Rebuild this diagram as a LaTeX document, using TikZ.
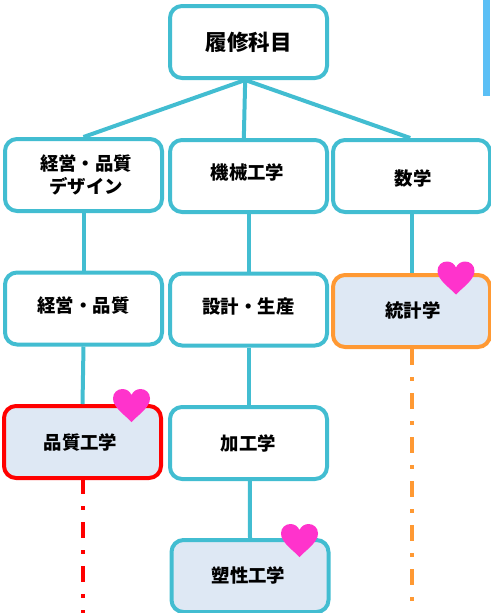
\documentclass[tikz,border=0pt]{standalone}
\usepackage{fontspec}
\newfontfamily\jpfont{Noto Sans CJK JP}
\newcommand{\nudged}[3]{\raisebox{#2}[0pt][0pt]{\makebox[0pt][c]{\hspace*{#1}#3}}}
\definecolor{boxteal}{HTML}{42BDD1}
\definecolor{boxfill}{HTML}{DEE8F4}
\definecolor{linkorange}{HTML}{FF9933}
\definecolor{heartpink}{HTML}{FF33CC}
\definecolor{barblue}{HTML}{5BBFF5}
\tikzset{
  subject/.style={rectangle,draw=boxteal,line width=4pt,rounded corners=12pt,fill=white,
    minimum width=157pt,minimum height=72pt,inner sep=0pt,align=center,
    font=\jpfont\bfseries\fontsize{18.4}{23}\selectfont},
  chosen/.style={subject,fill=boxfill},
  link/.style={draw=boxteal,line width=4pt},
  dashlink/.style={line width=4pt,dash pattern=on 16pt off 12pt on 4pt off 12pt},
  heart/.pic={\fill[heartpink] (0,16.5) .. controls (-6,10) and (-18.5,2) .. (-18.5,-7)
    .. controls (-18.5,-13) and (-14,-16.5) .. (-9,-16.5)
    .. controls (-5,-16.5) and (-1.5,-14) .. (0,-10.5)
    .. controls (1.5,-14) and (5,-16.5) .. (9,-16.5)
    .. controls (14,-16.5) and (18.5,-13) .. (18.5,-7)
    .. controls (18.5,2) and (6,10) .. (0,16.5) -- cycle;}
}
\begin{document}
\begin{tikzpicture}[x=1pt,y=-1pt,level distance=134pt,
        parent anchor=south,child anchor=north,
        edge from parent/.style={link,draw},
        level 1/.style={sibling distance=164pt}]
        \useasboundingbox (0,0) rectangle (490,613);
        \node[fill=barblue,minimum width=7pt,minimum height=96pt,inner sep=0pt,outer sep=0pt] (bar) at (486.5,48) {};
        \node[subject,font=\jpfont\bfseries\fontsize{21.5}{26}\selectfont] (root) at (248.5,42) {\nudged{0pt}{-8pt}{履修科目}}
          child[xshift=-1pt,parent anchor=265] {node[subject,yshift=1pt] (design) {\hspace*{5pt}経営・品質\\\hspace*{5pt}デザイン}
            child[parent anchor=south] {node[subject,yshift=0.5pt] (management) {\nudged{0pt}{-3.5pt}{経営・品質}}
              child[xshift=-1pt] {node[subject,draw=red,fill=boxfill,yshift=0.5pt] (quality) {\nudged{-4pt}{-7pt}{品質工学}}
                child[level distance=175pt,parent anchor=south,child anchor=center] {coordinate (qualityend)
                  edge from parent[draw=red,dashlink,dash phase=2pt]}
              }
            }
          }
          child[parent anchor=265,child anchor=97] {node[subject] (mechanical) {\nudged{-2pt}{-3pt}{機械工学}}
            child[parent anchor=south,child anchor=north] {node[subject,yshift=0.5pt] (design2) {\nudged{0pt}{-3.5pt}{設計・生産}}
              child {node[subject,yshift=0.5pt] (machining) {\nudged{0pt}{-7pt}{加工学}}
                child[xshift=1.5pt,parent anchor=272] {node[chosen,yshift=1pt] (plastic) {\nudged{-3pt}{-6pt}{塑性工学}}}
              }
            }
          }
          child[xshift=-1pt,parent anchor=265,child anchor=92] {node[subject] (math) {\nudged{3pt}{-9pt}{数学}}
            child[parent anchor=south,child anchor=north] {node[subject,draw=linkorange,fill=boxfill,yshift=-1pt] (statistics) {\nudged{3pt}{-6.5pt}{統計学}}
              child[level distance=310pt,parent anchor=south,child anchor=center] {coordinate (statisticsend)
                edge from parent[draw=linkorange,dashlink]}
            }
          };
        \pic at (131.5,405.5) {heart};
        \pic at (456,278) {heart};
        \pic at (299.5,540.5) {heart};
      \end{tikzpicture}
\end{document}
